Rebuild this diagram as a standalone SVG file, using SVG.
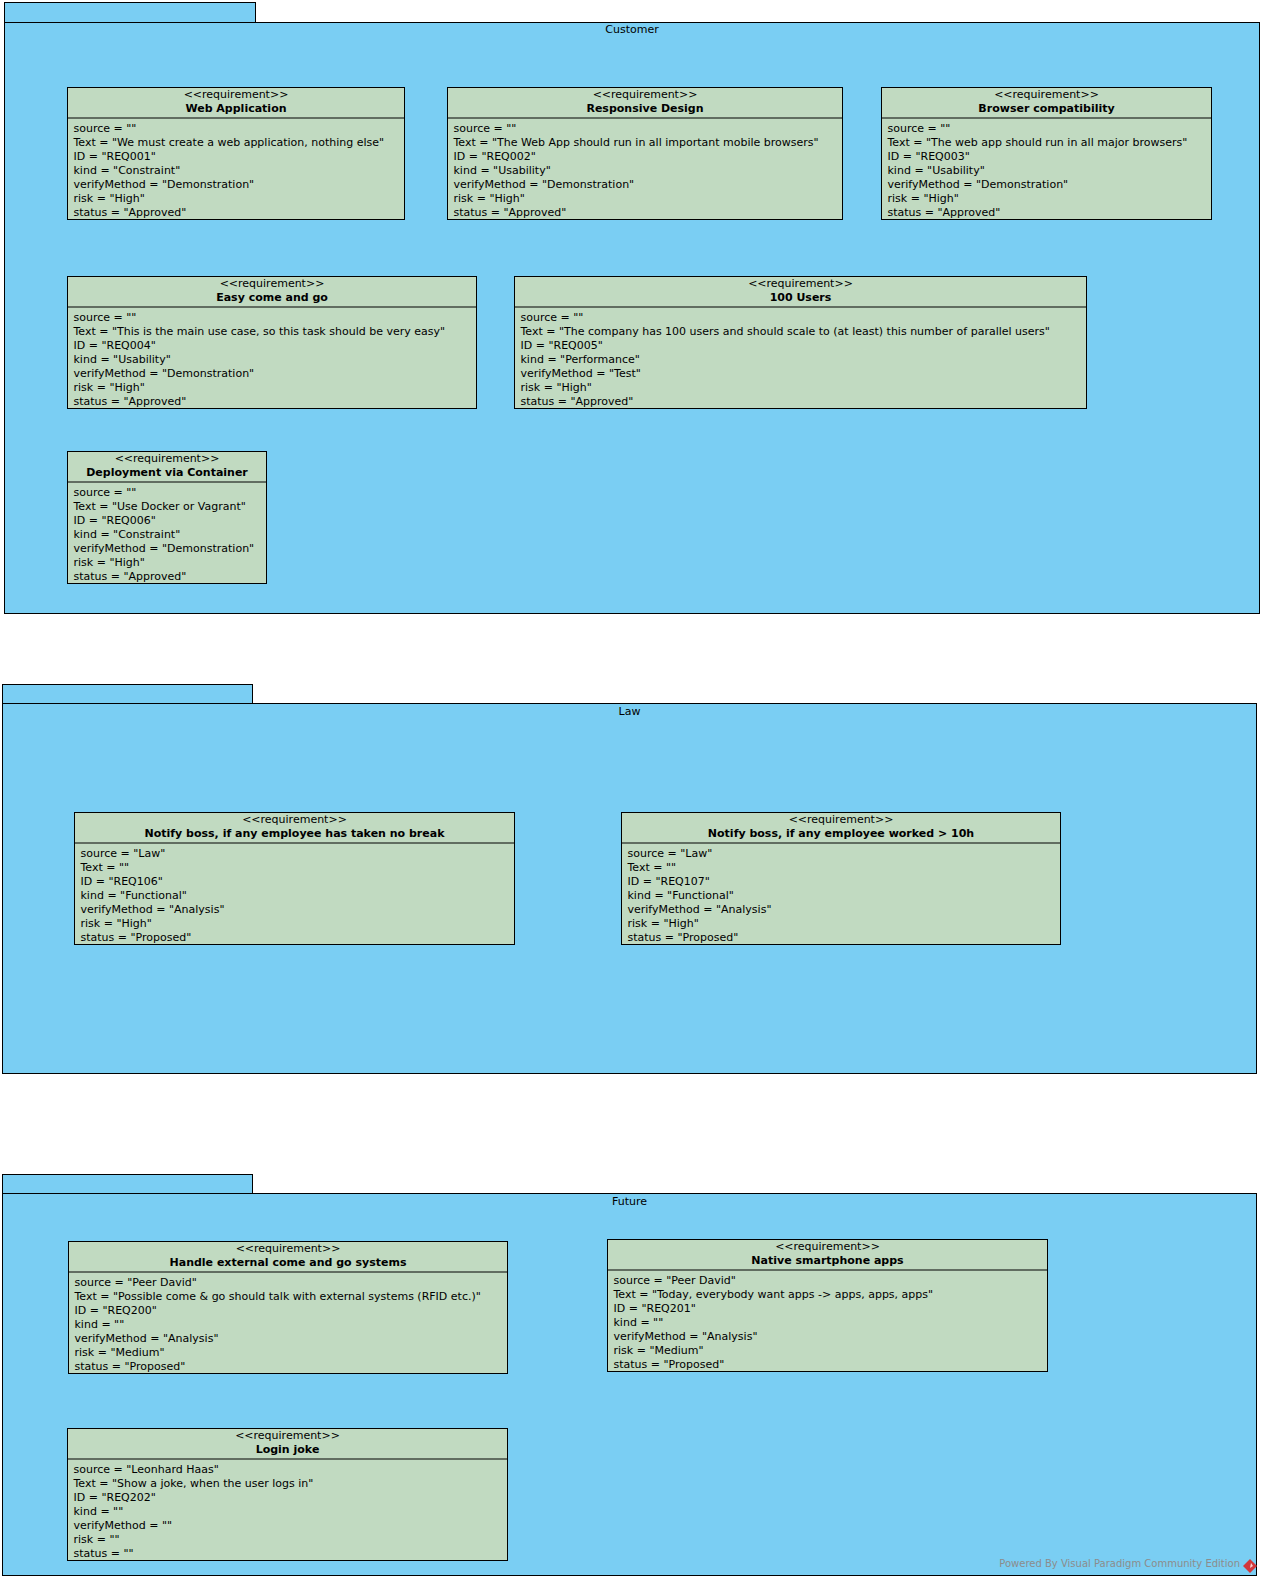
<svg xmlns="http://www.w3.org/2000/svg" width="1264" height="1581" viewBox="0 0 1264 1581">
  <style>
    text { font-family: "DejaVu Sans", "Liberation Sans", sans-serif; font-size: 11px; fill: #000; }
    .pkg { fill: #7ACEF3; stroke: #000; stroke-width: 1; }
    .req { fill: #C1DAC1; stroke: #000; stroke-width: 1; }
    .sep { stroke: #000; stroke-width: 1; }
    .c { text-anchor: middle; }
    .b { font-weight: bold; }
    .credit { fill: #8C8C8C; font-size: 10px; }
  </style>

  <!-- Packages -->
  <g id="pkg-customer">
    <rect class="pkg" x="4.5" y="2.5" width="251" height="20"/>
    <rect class="pkg" x="4.5" y="22.5" width="1255" height="591"/>
    <text class="c" x="632" y="33">Customer</text>
  </g>
  <g id="pkg-law">
    <rect class="pkg" x="2.5" y="684.5" width="250" height="19"/>
    <rect class="pkg" x="2.5" y="703.5" width="1254" height="370"/>
    <text class="c" x="629.5" y="715">Law</text>
  </g>
  <g id="pkg-future">
    <rect class="pkg" x="2.5" y="1174.5" width="250" height="19"/>
    <rect class="pkg" x="2.5" y="1193.5" width="1254" height="382"/>
    <text class="c" x="629.5" y="1205">Future</text>
  </g>

  <!-- Requirements: Customer -->
  <g id="req-web-application" transform="translate(67.5,87.5)">
    <rect class="req" x="0" y="0" width="337" height="132"/>
    <line class="sep" x1="0" y1="30.5" x2="337" y2="30.5"/>
    <text class="c" x="168.5" y="10">&lt;&lt;requirement&gt;&gt;</text>
    <text class="c b" x="168.5" y="24">Web Application</text>
    <text x="6" y="44.5">source = ""</text>
    <text x="6" y="58.5">Text = "We must create a web application, nothing else"</text>
    <text x="6" y="72.5">ID = "REQ001"</text>
    <text x="6" y="86.5">kind = "Constraint"</text>
    <text x="6" y="100.5">verifyMethod = "Demonstration"</text>
    <text x="6" y="114.5">risk = "High"</text>
    <text x="6" y="128.5">status = "Approved"</text>
  </g>

  <g id="req-responsive-design" transform="translate(447.5,87.5)">
    <rect class="req" x="0" y="0" width="395" height="132"/>
    <line class="sep" x1="0" y1="30.5" x2="395" y2="30.5"/>
    <text class="c" x="197.5" y="10">&lt;&lt;requirement&gt;&gt;</text>
    <text class="c b" x="197.5" y="24">Responsive Design</text>
    <text x="6" y="44.5">source = ""</text>
    <text x="6" y="58.5">Text = "The Web App should run in all important mobile browsers"</text>
    <text x="6" y="72.5">ID = "REQ002"</text>
    <text x="6" y="86.5">kind = "Usability"</text>
    <text x="6" y="100.5">verifyMethod = "Demonstration"</text>
    <text x="6" y="114.5">risk = "High"</text>
    <text x="6" y="128.5">status = "Approved"</text>
  </g>

  <g id="req-browser-compatibility" transform="translate(881.5,87.5)">
    <rect class="req" x="0" y="0" width="330" height="132"/>
    <line class="sep" x1="0" y1="30.5" x2="330" y2="30.5"/>
    <text class="c" x="165" y="10">&lt;&lt;requirement&gt;&gt;</text>
    <text class="c b" x="165" y="24">Browser compatibility</text>
    <text x="6" y="44.5">source = ""</text>
    <text x="6" y="58.5">Text = "The web app should run in all major browsers"</text>
    <text x="6" y="72.5">ID = "REQ003"</text>
    <text x="6" y="86.5">kind = "Usability"</text>
    <text x="6" y="100.5">verifyMethod = "Demonstration"</text>
    <text x="6" y="114.5">risk = "High"</text>
    <text x="6" y="128.5">status = "Approved"</text>
  </g>

  <g id="req-easy-come-and-go" transform="translate(67.5,276.5)">
    <rect class="req" x="0" y="0" width="409" height="132"/>
    <line class="sep" x1="0" y1="30.5" x2="409" y2="30.5"/>
    <text class="c" x="204.5" y="10">&lt;&lt;requirement&gt;&gt;</text>
    <text class="c b" x="204.5" y="24">Easy come and go</text>
    <text x="6" y="44.5">source = ""</text>
    <text x="6" y="58.5">Text = "This is the main use case, so this task should be very easy"</text>
    <text x="6" y="72.5">ID = "REQ004"</text>
    <text x="6" y="86.5">kind = "Usability"</text>
    <text x="6" y="100.5">verifyMethod = "Demonstration"</text>
    <text x="6" y="114.5">risk = "High"</text>
    <text x="6" y="128.5">status = "Approved"</text>
  </g>

  <g id="req-100-users" transform="translate(514.5,276.5)">
    <rect class="req" x="0" y="0" width="572" height="132"/>
    <line class="sep" x1="0" y1="30.5" x2="572" y2="30.5"/>
    <text class="c" x="286" y="10">&lt;&lt;requirement&gt;&gt;</text>
    <text class="c b" x="286" y="24">100 Users</text>
    <text x="6" y="44.5">source = ""</text>
    <text x="6" y="58.5">Text = "The company has 100 users and should scale to (at least) this number of parallel users"</text>
    <text x="6" y="72.5">ID = "REQ005"</text>
    <text x="6" y="86.5">kind = "Performance"</text>
    <text x="6" y="100.5">verifyMethod = "Test"</text>
    <text x="6" y="114.5">risk = "High"</text>
    <text x="6" y="128.5">status = "Approved"</text>
  </g>

  <g id="req-deployment-via-container" transform="translate(67.5,451.5)">
    <rect class="req" x="0" y="0" width="199" height="132"/>
    <line class="sep" x1="0" y1="30.5" x2="199" y2="30.5"/>
    <text class="c" x="99.5" y="10">&lt;&lt;requirement&gt;&gt;</text>
    <text class="c b" x="99.5" y="24">Deployment via Container</text>
    <text x="6" y="44.5">source = ""</text>
    <text x="6" y="58.5">Text = "Use Docker or Vagrant"</text>
    <text x="6" y="72.5">ID = "REQ006"</text>
    <text x="6" y="86.5">kind = "Constraint"</text>
    <text x="6" y="100.5">verifyMethod = "Demonstration"</text>
    <text x="6" y="114.5">risk = "High"</text>
    <text x="6" y="128.5">status = "Approved"</text>
  </g>

  <!-- Requirements: Law -->
  <g id="req-notify-no-break" transform="translate(74.5,812.5)">
    <rect class="req" x="0" y="0" width="440" height="132"/>
    <line class="sep" x1="0" y1="30.5" x2="440" y2="30.5"/>
    <text class="c" x="220" y="10">&lt;&lt;requirement&gt;&gt;</text>
    <text class="c b" x="220" y="24">Notify boss, if any employee has taken no break</text>
    <text x="6" y="44.5">source = "Law"</text>
    <text x="6" y="58.5">Text = ""</text>
    <text x="6" y="72.5">ID = "REQ106"</text>
    <text x="6" y="86.5">kind = "Functional"</text>
    <text x="6" y="100.5">verifyMethod = "Analysis"</text>
    <text x="6" y="114.5">risk = "High"</text>
    <text x="6" y="128.5">status = "Proposed"</text>
  </g>

  <g id="req-notify-worked-10h" transform="translate(621.5,812.5)">
    <rect class="req" x="0" y="0" width="439" height="132"/>
    <line class="sep" x1="0" y1="30.5" x2="439" y2="30.5"/>
    <text class="c" x="219.5" y="10">&lt;&lt;requirement&gt;&gt;</text>
    <text class="c b" x="219.5" y="24">Notify boss, if any employee worked &gt; 10h</text>
    <text x="6" y="44.5">source = "Law"</text>
    <text x="6" y="58.5">Text = ""</text>
    <text x="6" y="72.5">ID = "REQ107"</text>
    <text x="6" y="86.5">kind = "Functional"</text>
    <text x="6" y="100.5">verifyMethod = "Analysis"</text>
    <text x="6" y="114.5">risk = "High"</text>
    <text x="6" y="128.5">status = "Proposed"</text>
  </g>

  <!-- Requirements: Future -->
  <g id="req-handle-external" transform="translate(68.5,1241.5)">
    <rect class="req" x="0" y="0" width="439" height="132"/>
    <line class="sep" x1="0" y1="30.5" x2="439" y2="30.5"/>
    <text class="c" x="219.5" y="10">&lt;&lt;requirement&gt;&gt;</text>
    <text class="c b" x="219.5" y="24">Handle external come and go systems</text>
    <text x="6" y="44.5">source = "Peer David"</text>
    <text x="6" y="58.5">Text = "Possible come &amp; go should talk with external systems (RFID etc.)"</text>
    <text x="6" y="72.5">ID = "REQ200"</text>
    <text x="6" y="86.5">kind = ""</text>
    <text x="6" y="100.5">verifyMethod = "Analysis"</text>
    <text x="6" y="114.5">risk = "Medium"</text>
    <text x="6" y="128.5">status = "Proposed"</text>
  </g>

  <g id="req-native-apps" transform="translate(607.5,1239.5)">
    <rect class="req" x="0" y="0" width="440" height="132"/>
    <line class="sep" x1="0" y1="30.5" x2="440" y2="30.5"/>
    <text class="c" x="220" y="10">&lt;&lt;requirement&gt;&gt;</text>
    <text class="c b" x="220" y="24">Native smartphone apps</text>
    <text x="6" y="44.5">source = "Peer David"</text>
    <text x="6" y="58.5">Text = "Today, everybody want apps -&gt; apps, apps, apps"</text>
    <text x="6" y="72.5">ID = "REQ201"</text>
    <text x="6" y="86.5">kind = ""</text>
    <text x="6" y="100.5">verifyMethod = "Analysis"</text>
    <text x="6" y="114.5">risk = "Medium"</text>
    <text x="6" y="128.5">status = "Proposed"</text>
  </g>

  <g id="req-login-joke" transform="translate(67.5,1428.5)">
    <rect class="req" x="0" y="0" width="440" height="132"/>
    <line class="sep" x1="0" y1="30.5" x2="440" y2="30.5"/>
    <text class="c" x="220" y="10">&lt;&lt;requirement&gt;&gt;</text>
    <text class="c b" x="220" y="24">Login joke</text>
    <text x="6" y="44.5">source = "Leonhard Haas"</text>
    <text x="6" y="58.5">Text = "Show a joke, when the user logs in"</text>
    <text x="6" y="72.5">ID = "REQ202"</text>
    <text x="6" y="86.5">kind = ""</text>
    <text x="6" y="100.5">verifyMethod = ""</text>
    <text x="6" y="114.5">risk = ""</text>
    <text x="6" y="128.5">status = ""</text>
  </g>

  <!-- No connectors in this diagram -->
  <g id="connectors"/>

  <!-- Footer credit -->
  <g id="credit">
    <text class="credit" x="1240" y="1567" text-anchor="end">Powered By Visual Paradigm Community Edition</text>
    <polygon points="1250,1559 1257,1566 1250,1573 1243,1566" fill="#D2383C"/>
    <polygon points="1251,1563 1253,1566 1250,1568" fill="#F5D0D0"/>
  </g>
</svg>
